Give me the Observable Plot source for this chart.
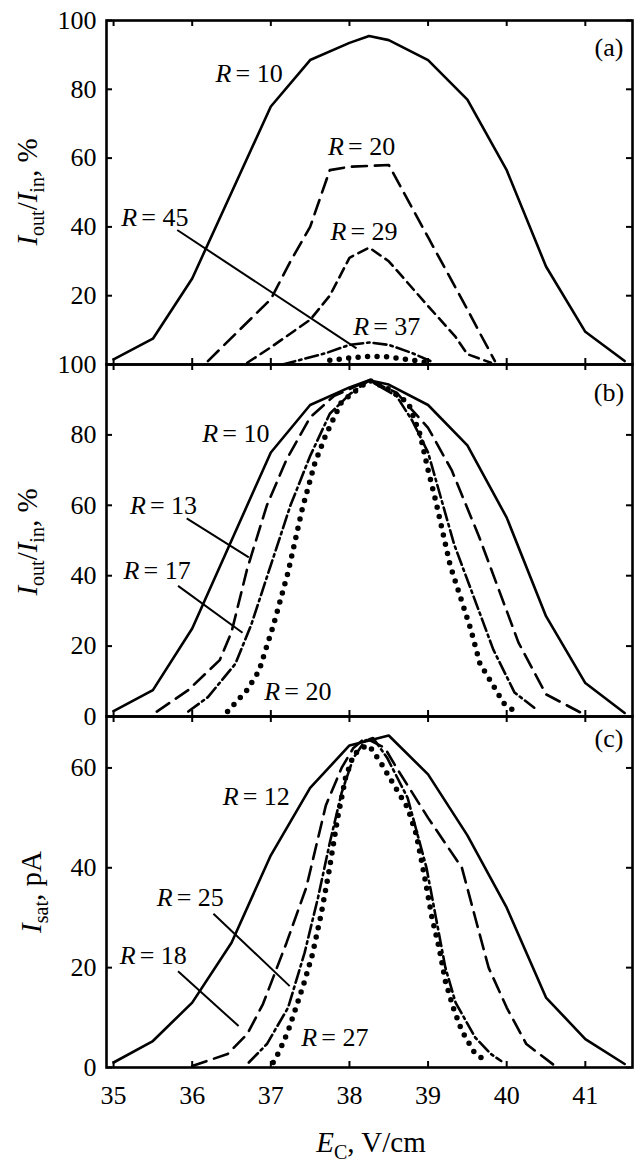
<!DOCTYPE html>
<html><head><meta charset="utf-8">
<script src="https://cdn.jsdelivr.net/npm/d3@7"></script>
<script src="https://cdn.jsdelivr.net/npm/@observablehq/plot@0.6"></script>
<style>
body{margin:0;background:#fff;}
#chart{width:644px;}
#chart svg{display:block;}
#chart svg text{font-family:"Liberation Serif","Times New Roman",serif;}
</style></head><body><div id="chart"></div>
<script>
// ---------- data ----------
const xDomain = [34.91, 41.6];
const xTicks = [35, 36, 37, 38, 39, 40, 41];
const yTicksPct = [0, 20, 40, 60, 80, 100];
const yLabelsA = [20, 40, 60, 80, 100];
const yLabelsB = [0, 20, 40, 60, 80, 100];
const yTicksC = [0, 20, 40, 60];

// panel (a)
const a10x = [35, 35.5, 36, 36.5, 37, 37.5, 38, 38.25, 38.5, 39, 39.5, 40, 40.5, 41, 41.5];
const a10y = [1.5, 7.5, 25, 50, 75, 88.5, 93.5, 95.5, 94.3, 88.5, 77, 56.5, 28.5, 9.5, 1];
const a20x = [36.2, 37, 37.25, 37.5, 37.75, 38, 38.5, 39, 39.5, 39.65, 39.85];
const a20y = [1, 19, 30, 40, 56.5, 57.5, 58, 37, 16, 9.5, 1];
const a29x = [36.7, 37, 37.5, 37.75, 38, 38.25, 38.5, 39, 39.35, 39.5, 39.8];
const a29y = [0.5, 5, 13, 20, 31, 34, 30, 17, 8, 3, 0.5];
const a37x = [37.15, 37.7, 38, 38.25, 38.5, 38.8, 39.05];
const a37y = [0, 3.3, 5.7, 6.4, 5.7, 3.3, 0.8];
const a45x = [37.75, 38, 38.25, 38.5, 38.75, 39];
const a45y = [1.2, 1.9, 2.4, 2.2, 1.4, 0.6];

// panel (b)
const b10x = a10x;
const b10y = a10y;
const b13x = [35.55, 35.95, 36.35, 36.5, 36.7, 36.95, 37.2, 37.5, 37.8, 38.25, 38.6, 39, 39.3, 39.65, 40.15, 40.5, 40.95];
const b13y = [1.4, 7.5, 16, 24, 42, 60, 73, 85, 91, 95.5, 92, 82, 70, 51, 21, 6.3, 1];
const b17x = [35.95, 36.2, 36.55, 36.75, 37, 37.25, 37.5, 37.75, 38, 38.25, 38.6, 38.8, 39, 39.33, 39.47, 39.83, 40.1, 40.35];
const b17y = [1.4, 5.5, 15, 26, 43, 60, 74, 86, 91.5, 95.5, 91, 84, 75, 49, 40.6, 19, 6.8, 2.5];
const b20x = [36.45, 36.7, 36.85, 37.03, 37.22, 37.4, 37.56, 37.7, 37.9, 38.25, 38.5, 38.75, 38.9, 39, 39.1, 39.28, 39.41, 39.54, 39.66, 39.81, 39.96, 40.07];
const b20y = [1.4, 7.6, 13, 25.7, 41, 59, 72, 80, 89.4, 95.5, 93, 89, 80, 70, 61, 43, 34, 25, 15, 9.5, 3.8, 2];

// panel (c)
const c12x = [35, 35.5, 36, 36.5, 37, 37.5, 38, 38.25, 38.5, 39, 39.5, 40, 40.5, 41, 41.5];
const c12y = [1, 5.3, 13, 25, 42.5, 56, 64.5, 65.5, 66.5, 58.7, 46.5, 32, 14, 5.7, 0.7];
const c18x = [36, 36.45, 36.7, 36.9, 37.2, 37.45, 37.7, 37.9, 38.05, 38.2, 38.45, 38.6, 39, 39.43, 39.6, 39.77, 40, 40.25, 40.6];
const c18y = [0.3, 2.7, 6.7, 12.7, 25, 36, 52.5, 60, 64, 66, 64, 60, 50, 40, 30, 20, 12, 4.7, 0.5];
const c25x = [36.72, 36.95, 37.22, 37.43, 37.6, 37.75, 37.9, 38.05, 38.2, 38.3, 38.48, 38.74, 38.98, 39.1, 39.22, 39.35, 39.6, 39.8, 39.93];
const c25y = [1, 4.7, 12, 23, 34, 45, 55, 62, 65.5, 66, 62, 54, 40, 30, 20, 13, 6, 2.7, 1.3];
const c27x = [37.03, 37.11, 37.22, 37.32, 37.43, 37.53, 37.64, 37.74, 37.85, 37.95, 38.05, 38.15, 38.25, 38.4, 38.55, 38.74, 38.85, 38.95, 39.05, 39.14, 39.22, 39.32, 39.43, 39.6, 39.75];
const c27y = [1, 3.3, 7.3, 12, 17.3, 22.7, 30.7, 39.3, 50, 58, 62.5, 64, 64.5, 61, 57, 52, 46.7, 38.7, 30, 24, 17.3, 12, 7.3, 2.7, 1.3];

// labels: [x, y, number]
const labelsA = [[36.73, 84.5, "10"], [38.16, 63.2, "20"], [38.19, 38.5, "29"], [38.48, 10.9, "37"], [35.53, 42.7, "45"]];
const labelsB = [[36.56, 80.3, "10"], [35.64, 59.9, "13"], [35.56, 41.3, "17"], [37.35, 7.1, "20"]];
const labelsC = [[36.82, 54.3, "12"], [35.98, 34, "25"], [35.51, 22.3, "18"], [37.82, 6, "27"]];
// leader lines: [x1, y1, x2, y2]
const leadersA = [[35.81, 39.1, 38.09, 4.7]];
const leadersB = [[35.93, 56.3, 36.72, 45.2], [35.82, 37.1, 36.64, 23.8]];
const leadersC = [[36.27, 30.8, 37.24, 16.3], [35.82, 19.3, 36.59, 8.3]];
const tags = ["(a)", "(b)", "(c)"];

// ---------- layout ----------
const W = 644, ML = 106, MR = 12;
const PW = W - ML - MR;
const FONT = "'Liberation Serif', 'Times New Roman', serif";
const FS = 26;

const styles = {
  solid: {strokeWidth: 2.6},
  longdash: {strokeWidth: 2.6, strokeDasharray: "15,8"},
  dash: {strokeWidth: 2.6, strokeDasharray: "10,6"},
  dashdot: {strokeWidth: 2.6, strokeDasharray: "13,4,2.5,4"},
  dots: {strokeWidth: 5.5, strokeDasharray: "0,9.5", strokeLinecap: "round"}
};

function rows(xs, ys) { return xs.map((x, i) => ({x, y: ys[i]})); }

function panel({height, marginTop, marginBottom, yDomain, yTicks, yLabels, curves, labels, leaders, tag, tagY, xLabels}) {
  const PH = height - marginTop - marginBottom;
  const marks = [
    Plot.tickY(yTicks, {y: d => d, insetRight: PW - 6, stroke: "black", strokeWidth: 2}),
    Plot.tickY(yTicks, {y: d => d, insetLeft: PW - 6, stroke: "black", strokeWidth: 2}),
    Plot.tickX(xTicks, {x: d => d, insetTop: PH - 6, stroke: "black", strokeWidth: 2}),
    Plot.tickX(xTicks, {x: d => d, insetBottom: PH - 6, stroke: "black", strokeWidth: 2}),
    Plot.axisY(yLabels, {anchor: "left", tickSize: 0, tickPadding: 10, fontSize: FS, label: null}),
  ];
  if (xLabels) marks.push(Plot.axisX(xLabels, {anchor: "bottom", tickSize: 0, tickPadding: 18, fontSize: FS, label: null}));
  for (const c of curves) {
    marks.push(Plot.line(rows(c.x, c.y), {x: "x", y: "y", stroke: "black", strokeLinejoin: "round", ...styles[c.style]}));
  }
  marks.push(Plot.link(leaders, {x1: d => d[0], y1: d => d[1], x2: d => d[2], y2: d => d[3], stroke: "black", strokeWidth: 2}));
  marks.push(Plot.text(labels, {x: d => d[0], y: d => d[1], text: () => "R", fontStyle: "italic", textAnchor: "start", dx: -34, fontSize: FS, fill: "black"}));
  marks.push(Plot.text(labels, {x: d => d[0], y: d => d[1], text: d => "= " + d[2], textAnchor: "start", dx: -14, fontSize: FS, fill: "black"}));
  marks.push(Plot.text([tag], {x: 41.3, y: tagY, text: d => d, fontSize: FS, fill: "black"}));
  marks.push(Plot.frame({stroke: "black", strokeWidth: 2.6}));
  return Plot.plot({
    width: W, height, marginLeft: ML, marginRight: MR, marginTop, marginBottom,
    x: {domain: xDomain, axis: null},
    y: {domain: yDomain, axis: null},
    style: {fontFamily: FONT, fontSize: FS + "px", background: "transparent", overflow: "visible", color: "black"},
    marks
  });
}

function addTitle(svg, x, y, parts, rotate) {
  const t = d3.select(svg).append("text")
    .attr("transform", `translate(${x},${y})` + (rotate ? " rotate(-90)" : ""))
    .attr("text-anchor", "middle").attr("font-family", FONT)
    .attr("font-size", 29).attr("fill", "black");
  let shift = 0;
  for (const p of parts) {
    const ts = t.append("tspan").text(p.t);
    if (p.i) ts.attr("font-style", "italic");
    const target = p.sub ? 7 : 0;
    if (target !== shift) { ts.attr("dy", target - shift); shift = target; }
    if (p.sub) ts.attr("font-size", 20);
  }
}

const chart = document.getElementById("chart");
const pA = panel({height: 364, marginTop: 20, marginBottom: 0, yDomain: [0, 100], yTicks: yTicksPct, yLabels: yLabelsA,
  curves: [{x: a10x, y: a10y, style: "solid"}, {x: a20x, y: a20y, style: "longdash"}, {x: a29x, y: a29y, style: "dash"},
           {x: a37x, y: a37y, style: "dashdot"}, {x: a45x, y: a45y, style: "dots"}],
  labels: labelsA, leaders: leadersA, tag: tags[0], tagY: 92});
const pB = panel({height: 352, marginTop: 0, marginBottom: 0, yDomain: [0, 100], yTicks: yTicksPct, yLabels: yLabelsB,
  curves: [{x: b10x, y: b10y, style: "solid"}, {x: b13x, y: b13y, style: "longdash"},
           {x: b17x, y: b17y, style: "dashdot"}, {x: b20x, y: b20y, style: "dots"}],
  labels: labelsB, leaders: leadersB, tag: tags[1], tagY: 92});
const pC = panel({height: 449, marginTop: 0, marginBottom: 98, yDomain: [0, 70.3], yTicks: yTicksC, yLabels: yTicksC,
  curves: [{x: c12x, y: c12y, style: "solid"}, {x: c18x, y: c18y, style: "longdash"},
           {x: c25x, y: c25y, style: "dashdot"}, {x: c27x, y: c27y, style: "dots"}],
  labels: labelsC, leaders: leadersC, tag: tags[2], tagY: 65.8, xLabels: xTicks});

const ratio = [{t: "I", i: true}, {t: "out", sub: true}, {t: "/"}, {t: "I", i: true}, {t: "in", sub: true}, {t: ", %"}];
addTitle(pA, 37, 192, ratio, true);
addTitle(pB, 37, 178, ratio, true);
addTitle(pC, 41, 176, [{t: "I", i: true}, {t: "sat", sub: true}, {t: ", pA"}], true);
addTitle(pC, 371, 436, [{t: "E", i: true}, {t: "C", sub: true}, {t: ", V/cm"}], false);

chart.append(pA, pB, pC);
</script></body></html>
